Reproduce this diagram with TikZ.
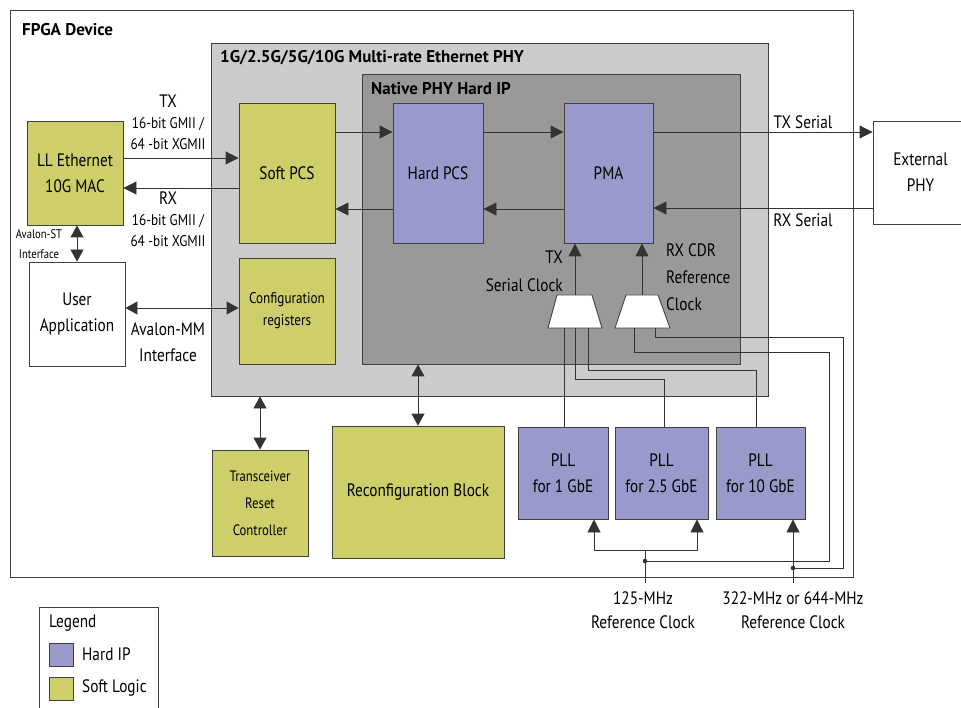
\documentclass[tikz,border=0pt]{standalone}
\usepackage{fontspec}
\setmainfont{PT Sans}[FakeStretch=0.85]
\newfontfamily\titlefont{PT Sans Bold}
\usetikzlibrary{arrows.meta}

\definecolor{hardip}{RGB}{153,153,204}
\definecolor{softlogic}{RGB}{206,206,106}
\definecolor{phygray}{RGB}{204,204,204}
\definecolor{nativegray}{RGB}{153,153,153}

\tikzset{
  blk/.style={draw=black!75, line width=0.9pt, align=center, inner sep=0pt,
    font=\fontsize{18}{26}\selectfont},
  hard/.style={blk, fill=hardip},
  soft/.style={blk, fill=softlogic},
  whitebox/.style={blk, fill=white},
  wire/.style={draw=black!80, line width=0.9pt},
  arr/.style={wire, -{Triangle[length=13pt,width=13pt]}},
  darr/.style={wire, {Triangle[length=12pt,width=13pt]}-{Triangle[length=12pt,width=13pt]}},
  lbl/.style={align=center, inner sep=0pt, font=\fontsize{15.5}{21}\selectfont},
  ttl/.style={anchor=west, inner sep=0pt, font=\titlefont\fontsize{17}{20}\selectfont},
  muxshape/.style={draw=black!75, line width=0.9pt, fill=white},
}

\begin{document}
\begin{tikzpicture}[x=1pt,y=-1pt]
\useasboundingbox (0,0) rectangle (961,708);

% containers
\node[whitebox, minimum width=843pt, minimum height=567pt] (fpga) at (431.5,293.5) {};
\node[ttl] (fpgattl) at (22,30) {FPGA Device};
\node[blk, fill=phygray, minimum width=557pt, minimum height=353pt] (phy) at (489.5,219.5) {};
\node[ttl] (phyttl) at (220,58) {1G/2.5G/5G/10G Multi-rate Ethernet PHY};
\node[blk, fill=nativegray, minimum width=378pt, minimum height=290pt] (native) at (551,219) {};
\node[ttl] (nativettl) at (371,89) {Native PHY Hard IP};

% blocks
\node[soft, minimum width=96pt, minimum height=104pt] (mac) at (75,173) {LL Ethernet\\10G MAC};
\node[whitebox, minimum width=96pt, minimum height=104pt] (app) at (77,314) {User\\Application};
\node[soft, minimum width=96pt, minimum height=140pt] (softpcs) at (287,173) {Soft PCS};
\node[soft, minimum width=96pt, minimum height=106pt, font=\fontsize{15.5}{22}\selectfont] (cfg) at (287,311) {Configuration\\registers};
\node[hard, minimum width=90pt, minimum height=140pt] (hardpcs) at (438,173) {Hard PCS};
\node[hard, minimum width=89pt, minimum height=140pt] (pma) at (608.5,173) {PMA};
\node[whitebox, minimum width=95pt, minimum height=103pt] (extphy) at (920.5,172.5) {External\\PHY};
\node[soft, minimum width=96pt, minimum height=106pt, font=\fontsize{15}{27}\selectfont] (reset) at (260,503) {Transceiver\\Reset\\Controller};
\node[soft, minimum width=172pt, minimum height=132pt] (reconf) at (418,492) {Reconfiguration Block};
\node[hard, minimum width=90pt, minimum height=92pt] (pll1) at (563,473) {PLL\\for 1 GbE};
\node[hard, minimum width=93pt, minimum height=92pt] (pll2) at (661.5,473) {PLL\\for 2.5 GbE};
\node[hard, minimum width=89pt, minimum height=92pt] (pll3) at (760.5,473) {PLL\\for 10 GbE};

% clock muxes
\coordinate (txmuxtop) at (575,295);
\coordinate (txmuxbot) at (575,328);
\coordinate (rxmuxtop) at (642,295);
\coordinate (rxmuxbot) at (642,328);
\draw[muxshape] (557,295) -- (592,295) -- (602,328) -- (548,328) -- cycle;
\draw[muxshape] (626,295) -- (658,295) -- (670,328) -- (615,328) -- cycle;

% data paths
\draw[arr] (mac.east |- 0,158) -- (softpcs.west |- 0,158);
\draw[arr] (softpcs.west |- 0,188) -- (mac.east |- 0,188);
\draw[arr] (softpcs.east |- 0,132) -- (hardpcs.west |- 0,132);
\draw[arr] (hardpcs.west |- 0,209) -- (softpcs.east |- 0,209);
\draw[arr] (hardpcs.east |- 0,132) -- (pma.west |- 0,132);
\draw[arr] (pma.west |- 0,209) -- (hardpcs.east |- 0,209);
\draw[arr] (pma.east |- 0,132) -- (extphy.west |- 0,132);
\draw[arr] (extphy.west |- 0,208) -- (pma.east |- 0,208);
\draw[darr] (mac.south -| 77,0) -- (app.north);
\draw[darr] (app.east |- 0,308) -- (cfg.west |- 0,308);
\draw[darr] (phy.south -| reset.north) -- (reset.north);
\draw[darr] (native.south -| reconf.north) -- (reconf.north);

% clocks
\draw[arr] (txmuxtop) -- (txmuxtop |- pma.south);
\draw[arr] (rxmuxtop) -- (rxmuxtop |- pma.south);
\draw[wire] ([xshift=-11pt]txmuxbot) -- ([xshift=-11pt]txmuxbot |- pll1.north);
\draw[wire] (txmuxbot) -- ++(0,51) -| (pll2.north -| 664,0);
\draw[wire] ([xshift=13pt]txmuxbot) -- ++(0,42) -| (pll3.north -| 756,0);
\coordinate (j125) at (645,561);
\coordinate (j322) at (793,568);
\coordinate (b125) at (645,550);
\draw[wire] ([xshift=-8pt]rxmuxbot) -- ++(0,24) -| (829,561) -- (j125);
\draw[wire] ([xshift=13pt]rxmuxbot) -- ++(0,9) -| (843,568) -- (j322);
\draw[wire] (645,583) -- (b125);
\draw[arr] (b125) -| (pll1.south -| 594,0);
\draw[arr] (b125) -| (pll2.south -| 697,0);
\draw[arr] (793,583) -- (pll3.south -| 793,0);
\fill[black!80] (j125) circle (2.3pt) (j322) circle (2.3pt);

% labels
\node[lbl] (txlbl) at (168,122) {{\fontsize{18}{21}\selectfont TX}\\16-bit GMII /\\64 -bit XGMII};
\node[lbl] (rxlbl) at (168,219) {{\fontsize{18}{21}\selectfont RX}\\16-bit GMII /\\64 -bit XGMII};
\node[lbl, font=\fontsize{12.5}{20}\selectfont] (stlbl) at (39,244) {Avalon-ST\\Interface};
\node[lbl, font=\fontsize{18}{26}\selectfont] (mmlbl) at (168,342) {Avalon-MM\\Interface};
\node[lbl, font=\fontsize{18}{28}\selectfont, align=right, anchor=east] (txclk) at (563,271) {TX\\Serial Clock};
\node[lbl, font=\fontsize{18}{27}\selectfont, align=left, anchor=west] (rxclk) at (666,277) {RX CDR\\Reference\\Clock};
\node[lbl, font=\fontsize{18}{20}\selectfont] (txser) at (803,122) {TX Serial};
\node[lbl, font=\fontsize{18}{20}\selectfont] (rxser) at (803,220) {RX Serial};
\node[lbl, font=\fontsize{18}{24}\selectfont] (ref125) at (643,610) {125-MHz\\Reference Clock};
\node[lbl, font=\fontsize{18}{24}\selectfont] (ref322) at (793,610) {322-MHz or 644-MHz\\Reference Clock};

% legend
\node[whitebox, minimum width=119pt, minimum height=120pt, anchor=north west] (legend) at (39,607) {};
\node[lbl, anchor=west, font=\fontsize{18}{20}\selectfont] (legttl) at (49,623) {Legend};
\node[hard, minimum width=24pt, minimum height=23pt] (keyhard) at (61,654.5) {};
\node[lbl, anchor=west, font=\fontsize{18}{20}\selectfont] (keyhardlbl) at (82,654) {Hard IP};
\node[soft, minimum width=24pt, minimum height=23pt] (keysoft) at (61,688.5) {};
\node[lbl, anchor=west, font=\fontsize{18}{20}\selectfont] (keysoftlbl) at (82,688) {Soft Logic};
\end{tikzpicture}
\end{document}
